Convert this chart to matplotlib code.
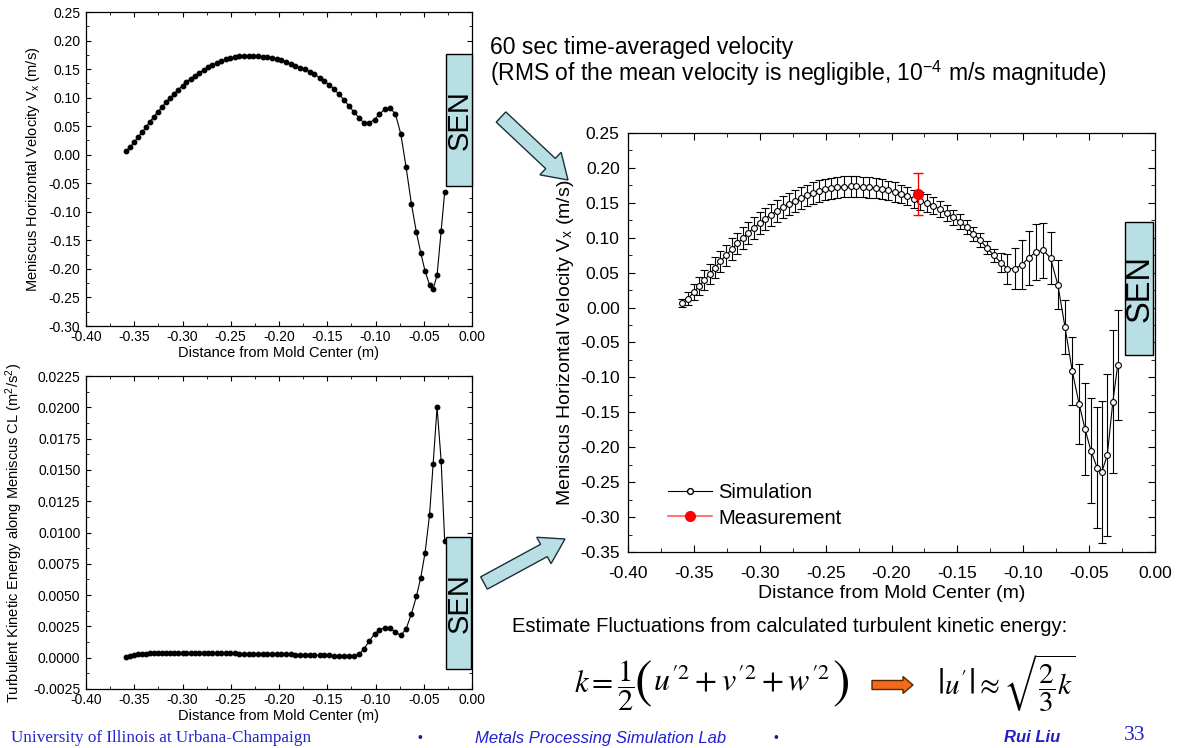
import numpy as np
import matplotlib
matplotlib.use("Agg")
import matplotlib.pyplot as plt
from matplotlib.ticker import MultipleLocator, FormatStrFormatter
from matplotlib.patches import Rectangle, FancyArrow
from matplotlib.lines import Line2D

plt.rcParams['font.family'] = ['Liberation Sans', 'DejaVu Sans']
plt.rcParams['mathtext.fontset'] = 'stix'
plt.rcParams['axes.unicode_minus'] = False

# distance from mold center (m)
dist = [-0.359, -0.3545, -0.350, -0.346, -0.342, -0.338, -0.334, -0.330, -0.3255, -0.321,
        -0.317, -0.3128, -0.3086, -0.3045, -0.300, -0.296, -0.2914, -0.287, -0.2824, -0.278,
        -0.2734, -0.269, -0.2645, -0.2597, -0.2552, -0.2503, -0.2459, -0.241, -0.2362, -0.231,
        -0.2266, -0.2217, -0.217, -0.212, -0.207, -0.2024, -0.1976, -0.1928, -0.188, -0.1831,
        -0.1783, -0.1734, -0.1683, -0.1634, -0.158, -0.1534, -0.148, -0.143, -0.138, -0.1328,
        -0.1276, -0.1224, -0.117, -0.112, -0.1066, -0.101, -0.0959, -0.0903, -0.0848, -0.0793,
        -0.0738, -0.0683, -0.0628, -0.0576, -0.0531, -0.0486, -0.044, -0.0403, -0.0362, -0.032,
        -0.0283]

# meniscus horizontal velocity (m/s), top-left panel
vx = [0.006, 0.013, 0.022, 0.031, 0.039, 0.048, 0.057, 0.066, 0.075, 0.084,
      0.092, 0.0995, 0.107, 0.114, 0.121, 0.1275, 0.133, 0.1386, 0.144, 0.1485,
      0.153, 0.157, 0.1607, 0.164, 0.167, 0.1694, 0.171, 0.1724, 0.173, 0.1735,
      0.1735, 0.173, 0.172, 0.171, 0.170, 0.168, 0.1655, 0.1625, 0.1596, 0.156,
      0.1525, 0.1496, 0.1456, 0.141, 0.135, 0.129, 0.123, 0.115, 0.106, 0.0966,
      0.0855, 0.075, 0.0645, 0.0558, 0.0558, 0.0616, 0.071, 0.080, 0.082, 0.071,
      0.0365, -0.022, -0.086, -0.136, -0.172, -0.204, -0.228, -0.235, -0.211, -0.134,
      -0.0656]

# 60 s time-averaged velocity shown in the big panel
vx_avg = vx[:60] + [0.033, -0.028, -0.091, -0.138, -0.174, -0.205, -0.229, -0.235,
                    -0.211, -0.135, -0.082]

# turbulent kinetic energy (m2/s2)
tke = [0.00005, 0.00012, 0.0002, 0.00026, 0.0003, 0.00032, 0.00034, 0.00035, 0.00035, 0.00036,
       0.00036, 0.00037, 0.00037, 0.00037, 0.00037, 0.00037, 0.00037, 0.00037, 0.00036, 0.00036,
       0.00036, 0.00036, 0.00035, 0.00035, 0.00035, 0.00034, 0.00034, 0.00033, 0.00033, 0.00032,
       0.00032, 0.00031, 0.00031, 0.0003, 0.0003, 0.00029, 0.00028, 0.00027, 0.00026, 0.00025,
       0.00024, 0.00023, 0.00022, 0.00021, 0.0002, 0.00019, 0.00018, 0.00016, 0.00015, 0.00014,
       0.00013, 0.00013, 0.00027, 0.0007, 0.0013, 0.0019, 0.00223, 0.0024, 0.00234, 0.00205,
       0.00178, 0.0023, 0.0035, 0.0049, 0.0064, 0.0084, 0.0114, 0.01545, 0.0200, 0.01575,
       0.0093]

meas_x = [-0.18]
meas_v = [0.163]
meas_err = [0.030]

# |u'| ~ sqrt(2k/3), as stated on the slide
fluct = np.sqrt(2.0 / 3.0 * np.array(tke))

W, H = 1179, 748
fig = plt.figure(figsize=(W / 100, H / 100), dpi=100)


def px_axes(x0, y0, x1, y1):
    return fig.add_axes([x0 / W, 1 - y1 / H, (x1 - x0) / W, (y1 - y0) / H])


def style(ax, ymaj, ymin, yfmt, fs, tlen, xpad, ypad):
    ax.set_xlim(-0.40, 0.0)
    ax.xaxis.set_major_locator(MultipleLocator(0.05))
    ax.xaxis.set_minor_locator(MultipleLocator(0.025))
    ax.yaxis.set_major_locator(MultipleLocator(ymaj))
    ax.yaxis.set_minor_locator(MultipleLocator(ymin))
    ax.xaxis.set_major_formatter(FormatStrFormatter('%.2f'))
    ax.yaxis.set_major_formatter(FormatStrFormatter(yfmt))
    ax.tick_params(which='both', direction='in', top=True, right=True, labelsize=fs)
    ax.tick_params(axis='x', which='major', pad=xpad)
    ax.tick_params(axis='y', which='major', pad=ypad)
    ax.tick_params(which='major', length=tlen)
    ax.tick_params(which='minor', length=tlen * 0.55)
    for s in ax.spines.values():
        s.set_linewidth(0.9)


# top-left: velocity
ax1 = px_axes(86, 12, 472, 326)
ax1.plot(dist, vx, '-o', color='k', lw=0.8, ms=3.2)
ax1.set_ylim(-0.30, 0.25)
style(ax1, 0.05, 0.025, '%.2f', 10, 3.5, 3, 4)
ax1.set_xlabel('Distance from Mold Center (m)', fontsize=10.5, labelpad=1)
ax1.set_ylabel(r'Meniscus Horizontal Velocity V$_\mathregular{x}$ (m/s)', fontsize=10.5, labelpad=5)

# bottom-left: turbulent kinetic energy
ax2 = px_axes(86, 376, 472, 689)
ax2.plot(dist, tke, '-o', color='k', lw=0.8, ms=3.2)
ax2.set_ylim(-0.0025, 0.0225)
style(ax2, 0.0025, 0.00125, '%.4f', 10, 3.5, 3, 4)
ax2.set_xlabel('Distance from Mold Center (m)', fontsize=10.5, labelpad=1)
ax2.set_ylabel(r'Turbulent Kinetic Energy along Meniscus CL (m$^\mathregular{2}$/s$^\mathregular{2}$)',
               fontsize=10.5, labelpad=6)

# main: averaged velocity with fluctuation bars
ax3 = px_axes(628, 133, 1155, 552)
ax3.errorbar(dist, vx_avg, yerr=fluct, fmt='-o', color='k', lw=0.8, ms=4.2,
             mfc='white', mec='k', mew=0.8, elinewidth=0.8, capsize=3, capthick=0.8)
ax3.errorbar(meas_x, meas_v, yerr=meas_err, fmt='o', color='red', ms=7,
             elinewidth=1, capsize=3.5, capthick=1, zorder=5)
ax3.set_ylim(-0.35, 0.25)
style(ax3, 0.05, 0.025, '%.2f', 12.5, 5, 10, 6)
ax3.set_xlabel('Distance from Mold Center (m)', fontsize=14, labelpad=3)
ax3.set_ylabel(r'Meniscus Horizontal Velocity V$_\mathregular{x}$ (m/s)', fontsize=14, labelpad=3)

handles = [Line2D([], [], color='k', lw=0.8, marker='o', ms=4.2, mfc='white', mec='k'),
           Line2D([], [], color='#ff5a5a', lw=1.2, marker='o', ms=7, mfc='red', mec='red')]
ax3.legend(handles, ['Simulation', 'Measurement'], loc='lower left', frameon=False,
           fontsize=14.5, handlelength=2.2, handletextpad=0.3, labelspacing=0.3,
           borderpad=0.3, bbox_to_anchor=(0.045, 0.02))

# overlay in pixel coordinates for the slide decorations
ov = fig.add_axes([0, 0, 1, 1], zorder=10)
ov.set_xlim(0, W)
ov.set_ylim(H, 0)
ov.axis('off')
renderer = fig.canvas.get_renderer()

sen_fill = '#b8e0e4'
for (x0, y0, x1, y1, fs) in [(446, 54, 472, 186, 21), (446, 537, 471, 669, 21),
                             (1125, 222, 1153, 355, 23.5)]:
    ov.add_patch(Rectangle((x0, y0), x1 - x0, y1 - y0, facecolor=sen_fill,
                           edgecolor='k', lw=1))
    ov.text((x0 + x1) / 2 + 1, (y0 + y1) / 2, 'SEN', rotation=90, ha='center', va='center',
            fontsize=fs)


def block_arrow(x0, y0, x1, y1, width, hw, hl, fc, ec):
    ov.add_patch(FancyArrow(x0, y0, x1 - x0, y1 - y0, width=width, head_width=hw,
                            head_length=hl, length_includes_head=True,
                            facecolor=fc, edgecolor=ec, lw=1))


block_arrow(501, 117, 568, 180, 14, 31, 24, sen_fill, '#1c2f38')
block_arrow(484, 583, 565, 539, 14, 30, 24, sen_fill, '#1c2f38')
block_arrow(872, 685, 913, 685, 9, 17, 10, '#f26a1b', '#5a2400')

ov.text(490, 47, '60 sec time-averaged velocity', fontsize=16.5, va='center', ha='left')
ov.text(490, 73, r'(RMS of the mean velocity is negligible, 10$^{\mathregular{-4}}$ m/s magnitude)',
        fontsize=16.5, va='center', ha='left')

ov.text(512, 626, 'Estimate Fluctuations from calculated turbulent kinetic energy:',
        fontsize=14.5, va='center', ha='left')


def chain(x, y, pieces):
    for s, fs, dy, gap in pieces:
        t = ov.text(x, y + dy, s, fontsize=fs, va='center', ha='left')
        x += t.get_window_extent(renderer).width + gap
    return x


chain(574, 686, [(r'$k=\dfrac{1}{2}$', 22, 0, 0),
                 (r'$($', 38, -2, 1),
                 (r'$u^{\prime 2}+v^{\prime 2}+w^{\prime 2}$', 23, -4, 1),
                 (r'$)$', 38, -2, 0)])
ov.text(937, 684, r'$\left|u^{\prime}\right|\approx\sqrt{\dfrac{2}{3}k}$',
        fontsize=21, va='center', ha='left')

# footer
foot_blue = '#2323c8'
ov.text(11, 738, 'University of Illinois at Urbana-Champaign', fontsize=12.3,
        family='Liberation Serif', color=foot_blue, va='center', ha='left')
ov.text(420, 738, '\u2022', fontsize=10, color='#1a1a8a', va='center', ha='center')
ov.text(475, 738, 'Metals Processing Simulation Lab', fontsize=12, style='italic',
        color='#1f1fd6', va='center', ha='left')
ov.text(776, 738, '\u2022', fontsize=10, color='#1a1a8a', va='center', ha='center')
ov.text(1004, 738, 'Rui Liu', fontsize=12, style='italic', weight='bold',
        color='#1f1fc8', va='center', ha='left')
ov.text(1124, 736, '33', fontsize=15.5, family='Liberation Serif', color=foot_blue,
        va='center', ha='left')

fig.savefig('out.png', dpi=100)
